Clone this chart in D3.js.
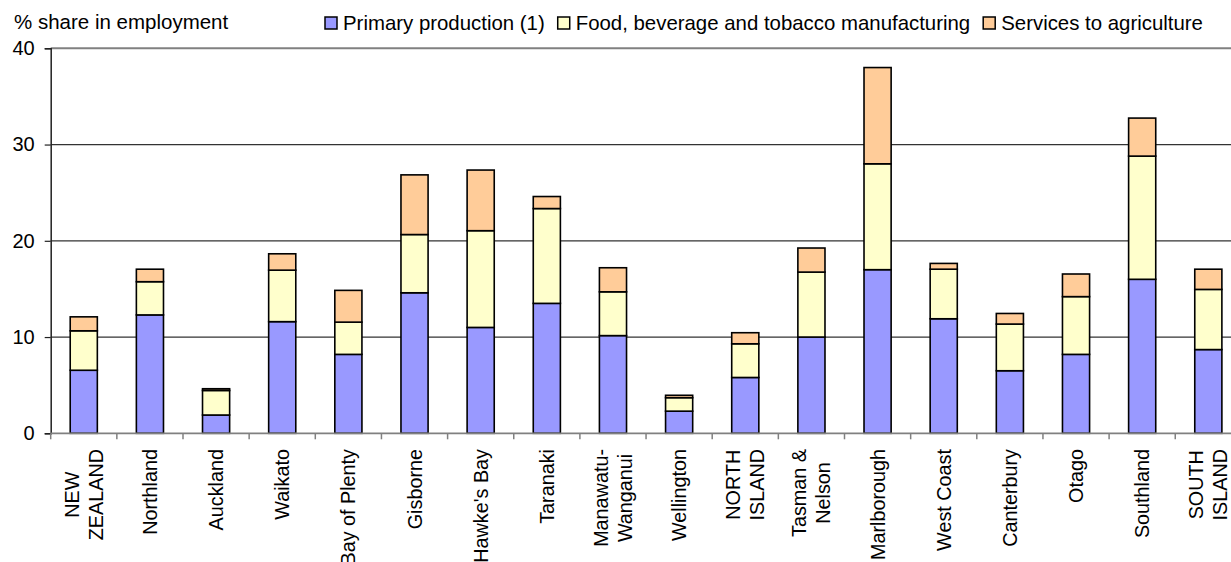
<!DOCTYPE html>
<html>
<head>
<meta charset="utf-8">
<script src="https://cdn.jsdelivr.net/npm/d3@7"></script>
<style>
  body { margin: 0; background: #fff; }
  text { font-family: Arial, "Liberation Sans", sans-serif; fill: #000; }
</style>
</head>
<body>
<script>
const width = 1231;
const height = 562;

// categories ("\n" = line break in the axis label)
const categories = ["NEW\nZEALAND", "Northland", "Auckland", "Waikato", "Bay of Plenty",
  "Gisborne", "Hawke's Bay", "Taranaki", "Manawatu-\nWanganui", "Wellington",
  "NORTH\nISLAND", "Tasman &\nNelson", "Marlborough", "West Coast", "Canterbury",
  "Otago", "Southland", "SOUTH\nISLAND"];

const seriesNames = ["Primary production (1)", "Food, beverage and tobacco manufacturing", "Services to agriculture"];
const seriesColors = ["#9999ff", "#ffffcc", "#ffcc99"];

const primary  = [6.55, 12.3, 1.9, 11.6, 8.2, 14.6, 11.0, 13.5, 10.15, 2.3, 5.8, 10.0, 17.0, 11.9, 6.5, 8.2, 16.0, 8.7];
const food     = [4.1, 3.45, 2.55, 5.35, 3.35, 6.05, 10.05, 9.85, 4.55, 1.4, 3.5, 6.75, 11.0, 5.15, 4.85, 6.0, 12.8, 6.25];
const services = [1.45, 1.3, 0.18, 1.7, 3.3, 6.2, 6.3, 1.25, 2.5, 0.25, 1.15, 2.5, 10.0, 0.6, 1.1, 2.35, 3.95, 2.1];

const yTicks = [0, 10, 20, 30, 40];

const svg = d3.select("body")
  .append("svg")
  .attr("width", width)
  .attr("height", height);

const plot = {left: 50.7, right: 1241.4, top: 48.3, bottom: 433.3};

const table = categories.map((c, i) => ({cat: c, s0: primary[i], s1: food[i], s2: services[i]}));
const stacked = d3.stack().keys(["s0", "s1", "s2"])(table);

const xScale = d3.scaleBand()
  .domain(categories)
  .range([plot.left, plot.right])
  .paddingInner(0.59)
  .paddingOuter(0.295);

const yScale = d3.scaleLinear()
  .domain([0, 40])
  .range([plot.bottom, plot.top]);

// gridlines
svg.append("g")
  .selectAll("line")
  .data(yTicks.filter(d => d > 0 && d < 40))
  .join("line")
  .attr("x1", plot.left)
  .attr("x2", plot.right)
  .attr("y1", d => yScale(d))
  .attr("y2", d => yScale(d))
  .attr("stroke", "#333")
  .attr("stroke-width", 1.2);

// top border
svg.append("line")
  .attr("x1", plot.left).attr("x2", plot.right)
  .attr("y1", yScale(40)).attr("y2", yScale(40))
  .attr("stroke", "#808080")
  .attr("stroke-width", 2);

// bars
svg.append("g")
  .selectAll("g")
  .data(stacked)
  .join("g")
  .attr("fill", (d, i) => seriesColors[i])
  .selectAll("rect")
  .data(d => d)
  .join("rect")
  .attr("x", d => xScale(d.data.cat))
  .attr("width", xScale.bandwidth())
  .attr("y", d => yScale(d[1]))
  .attr("height", d => yScale(d[0]) - yScale(d[1]))
  .attr("stroke", "#000")
  .attr("stroke-width", 1.6);

// y axis
const yAxis = d3.axisLeft(yScale).tickValues(yTicks).tickSize(6).tickPadding(10);
const yg = svg.append("g")
  .attr("transform", "translate(" + plot.left + ",0)")
  .call(yAxis);
yg.select(".domain").attr("stroke", "#222").attr("stroke-width", 1.5);
yg.selectAll(".tick line").attr("stroke", "#222").attr("stroke-width", 1.2);
yg.selectAll(".tick text")
  .style("font-size", "20px")
  .attr("font-family", null);

// x axis line and ticks at band boundaries
const step = xScale.step();
const xg = svg.append("g");
xg.append("line")
  .attr("x1", plot.left).attr("x2", plot.right)
  .attr("y1", plot.bottom).attr("y2", plot.bottom)
  .attr("stroke", "#808080")
  .attr("stroke-width", 1.8);
xg.selectAll("line.tk")
  .data(d3.range(categories.length + 1))
  .join("line")
  .attr("class", "tk")
  .attr("x1", i => plot.left + i * step)
  .attr("x2", i => plot.left + i * step)
  .attr("y1", plot.bottom)
  .attr("y2", plot.bottom + 6)
  .attr("stroke", "#808080")
  .attr("stroke-width", 1.5);

// category labels (rotated)
const labels = svg.append("g")
  .selectAll("g")
  .data(categories)
  .join("g")
  .attr("transform", d => "translate(" + (xScale(d) + xScale.bandwidth() / 2) + ",449) rotate(-90)");

labels.each(function(d) {
  const lines = d.split("\n");
  const g = d3.select(this);
  const texts = g.selectAll("text")
    .data(lines)
    .join("text")
    .attr("y", (l, i) => (i - (lines.length - 1) / 2) * 24)
    .attr("dominant-baseline", "central")
    .attr("text-anchor", "middle")
    .style("font-size", "19.8px")
    .text(l => l);
  let maxW = 0;
  texts.each(function() { maxW = Math.max(maxW, this.getComputedTextLength()); });
  texts.attr("x", -maxW / 2);
});

// y title
svg.append("text")
  .attr("x", 14)
  .attr("y", 29)
  .style("font-size", "20.5px")
  .text("% share in employment");

// legend
const legend = svg.append("g").attr("transform", "translate(325,23)");
let lx = 0;
seriesNames.forEach((name, i) => {
  legend.append("rect")
    .attr("x", lx)
    .attr("y", -6)
    .attr("width", 12)
    .attr("height", 12)
    .attr("fill", seriesColors[i])
    .attr("stroke", "#000")
    .attr("stroke-width", 1.5);
  const t = legend.append("text")
    .attr("x", lx + 18)
    .attr("y", 0)
    .attr("dominant-baseline", "central")
    .style("font-size", "20.4px")
    .text(name);
  lx += 18 + t.node().getComputedTextLength() + 13;
});
</script>
</body>
</html>
